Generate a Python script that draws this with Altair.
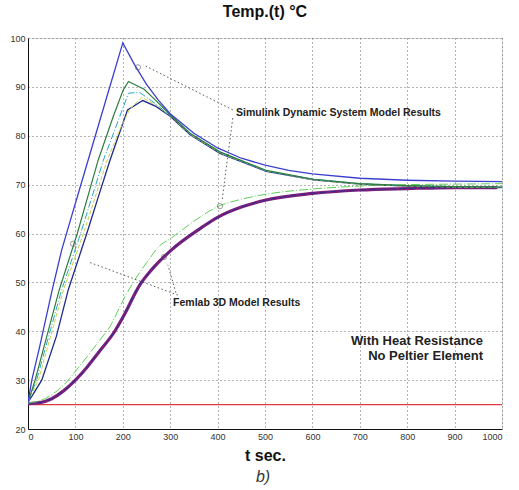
import altair as alt
import pandas as pd

FONT = "Liberation Sans"

# ---------------- data ----------------
x_ticks = [0, 100, 200, 300, 400, 500, 600, 700, 800, 900, 1000]
y_ticks = [20, 30, 40, 50, 60, 70, 80, 90, 100]

# Simulink curves (upper family)
t_blue = [0, 8, 25, 50, 71, 90, 100, 150, 200, 225, 250, 275, 300, 350, 400, 450, 500, 550, 600, 700, 800, 900, 1000]
y_blue = [25.5, 30, 37, 48, 56.6, 62.9, 66.2, 82.6, 99, 94.5, 90.5, 87.3, 84.5, 80.5, 77.5, 75.4, 74.0, 72.9, 72.2, 71.3, 70.9, 70.7, 70.6]

t_green = [0, 15, 66, 104, 148, 180, 201, 212, 245, 270, 300, 342, 405, 503, 602, 700, 800, 900, 1000]
y_green = [25.5, 30, 48.5, 60, 75, 84, 89.4, 91.1, 89.5, 87.2, 84.3, 80.5, 76.7, 72.9, 71.1, 70.2, 69.8, 69.6, 69.5]

t_cyan = [0, 18, 71, 111, 159, 190, 212, 235, 260, 300, 342, 405, 503, 602, 700, 800, 900, 1000]
y_cyan = [25.5, 30, 48.5, 60, 75, 83, 88.7, 88.9, 87.2, 84.2, 80.4, 76.6, 72.8, 71.1, 70.2, 69.8, 69.6, 69.5]

t_yellow = [0, 22, 75, 117, 167, 195, 215, 240, 265, 300, 342, 405, 503, 602, 700, 800, 900, 1000]
y_yellow = [25.5, 30, 48.5, 60, 75, 81.5, 85.5, 87.8, 86.6, 84.1, 80.3, 76.5, 72.8, 71.0, 70.1, 69.7, 69.5, 69.4]

t_dblue = [0, 10, 29, 60, 85, 124, 150, 173, 200, 210, 242, 270, 300, 342, 405, 503, 602, 700, 800, 900, 1000]
y_dblue = [25.5, 27, 30, 39, 48.5, 60, 68, 75, 82.5, 85.3, 87.2, 86.0, 84.0, 80.2, 76.4, 72.7, 71.0, 70.1, 69.7, 69.5, 69.4]

# Femlab curves (lower family)
t_lgreen = [0, 25, 50, 85, 100, 150, 173, 201, 222, 250, 278, 301, 315, 350, 400, 450, 500, 600, 700, 800, 900, 1000]
y_lgreen = [25.3, 25.8, 27, 30, 31.8, 38, 41, 46.4, 50, 54, 57.5, 59, 60, 62.5, 65.5, 67, 68, 69.1, 69.7, 70.0, 70.1, 70.2]

t_purple = [0, 25, 50, 75, 100, 125, 150, 183, 201, 236, 260, 301, 363, 400, 450, 500, 600, 700, 800, 900, 990]
y_purple = [25.2, 25.4, 26.2, 27.8, 30, 32.7, 35.8, 40, 43, 49.5, 52.5, 56.5, 61, 63.3, 65.4, 66.8, 68.2, 68.9, 69.2, 69.4, 69.4]

t_red = [0, 1000]
y_red = [25, 25]

# annotation texts (data coordinates)
sim_label = "Simulink Dynamic System Model Results"
sim_pos = (439, 84.7)
fem_label = "Femlab 3D Model Results"
fem_pos = (306, 45.8)
note_lines = ["With Heat Resistance", "No Peltier Element"]
note_t = 960
note_y = [38.0, 34.9]

# leader lines: (t1, y1, t2, y2)
lead_t1 = [432, 432, 316, 312]
lead_y1 = [85.3, 83.6, 47.4, 47.9]
lead_t2 = [243, 409, 127, 295]
lead_y2 = [94.5, 66.5, 54.2, 53.6]

# small loop markers
loop_t = [232, 405, 95, 287]
loop_y = [94.0, 65.6, 57.9, 55.2]

# ---------------- chart ----------------
xs = alt.Scale(domain=[0, 1000], nice=False)
ys = alt.Scale(domain=[20, 100], nice=False)

common_axis = dict(grid=True, gridColor="#666666", gridDash=[1, 3], gridWidth=1, gridOpacity=1,
                   tickSize=0, domainColor="#111111", labelFont=FONT, labelFontSize=9,
                   labelColor="#333333")
x_axis = alt.Axis(values=x_ticks, format="d", title="t sec.", labelPadding=3, titlePadding=6,
                  titleFont=FONT, titleFontSize=16, titleFontWeight="bold", titleColor="#111111",
                  **common_axis)
y_axis = alt.Axis(values=y_ticks, title=None, labelPadding=3, **common_axis)


def line(ts, ys_, color, width=1.0, dash=None, interp="linear"):
    df = pd.DataFrame({"t": ts, "y": ys_})
    kw = dict(color=color, strokeWidth=width, clip=True, interpolate=interp)
    if dash:
        kw["strokeDash"] = dash
    return alt.Chart(df).mark_line(**kw).encode(
        x=alt.X("t:Q", scale=xs, axis=x_axis),
        y=alt.Y("y:Q", scale=ys, axis=y_axis),
    )


layers = [
    line(t_red, y_red, "#e03a44", 1.3),
    line(t_purple, y_purple, "#7c1f78", 3.2, interp="monotone"),
    line(t_purple, y_purple, "#2b2f96", 1.0, [6, 4], interp="monotone"),
    line(t_lgreen, y_lgreen, "#5fcf56", 1.0, [9, 2, 1, 2], interp="monotone"),
    line(t_dblue, y_dblue, "#1f2a8c", 1.3),
    line(t_yellow, y_yellow, "#c9cf45", 1.0, [4, 2]),
    line(t_cyan, y_cyan, "#23a8c8", 1.0, [7, 2, 1, 2]),
    line(t_green, y_green, "#2e7d3c", 1.2),
    line(t_blue, y_blue, "#3b3fcf", 1.3),
]

lead_df = pd.DataFrame({"t1": lead_t1, "y1": lead_y1, "t2": lead_t2, "y2": lead_y2})
leaders = alt.Chart(lead_df).mark_rule(color="#444444", strokeWidth=0.9, strokeDash=[1.5, 2.5]).encode(
    x=alt.X("t1:Q", scale=xs), y=alt.Y("y1:Q", scale=ys),
    x2="t2:Q", y2="y2:Q",
)

loop_df = pd.DataFrame({"t": loop_t, "y": loop_y})
loops = alt.Chart(loop_df).mark_point(shape="circle", filled=False, size=28,
                                      color="#555555", strokeWidth=0.8).encode(
    x=alt.X("t:Q", scale=xs), y=alt.Y("y:Q", scale=ys),
)

lab_df = pd.DataFrame({"t": [sim_pos[0], fem_pos[0]], "y": [sim_pos[1], fem_pos[1]],
                       "label": [sim_label, fem_label]})
labels = alt.Chart(lab_df).mark_text(align="left", baseline="middle", font=FONT,
                                     fontSize=10.5, fontWeight="bold", color="#222222").encode(
    x=alt.X("t:Q", scale=xs), y=alt.Y("y:Q", scale=ys), text="label:N",
)

note_df = pd.DataFrame({"t": [note_t, note_t], "y": note_y, "label": note_lines})
notes = alt.Chart(note_df).mark_text(align="right", baseline="middle", font=FONT,
                                     fontSize=13, fontWeight="bold", color="#222222").encode(
    x=alt.X("t:Q", scale=xs), y=alt.Y("y:Q", scale=ys), text="label:N",
)

sub = alt.Chart(pd.DataFrame({"s": ["b)"]})).mark_text(
    align="center", baseline="middle", font=FONT, fontSize=16, fontStyle="italic",
    color="#333333").encode(x=alt.value(235), y=alt.value(439), text="s:N")

chart = alt.layer(*layers, leaders, loops, labels, notes, sub).properties(
    width=474, height=391,
    title=alt.TitleParams("Temp.(t) °C", font=FONT, fontSize=16, fontWeight="bold",
                          color="#111111", anchor="middle", offset=14),
    autosize=alt.AutoSizeParams(type="none"),
    padding={"left": 28, "top": 38, "right": 17, "bottom": 61},
).configure_view(stroke="#111111", strokeWidth=1).configure(background="white")

chart.save("out.html", embed_options={"renderer": "svg", "actions": False})
